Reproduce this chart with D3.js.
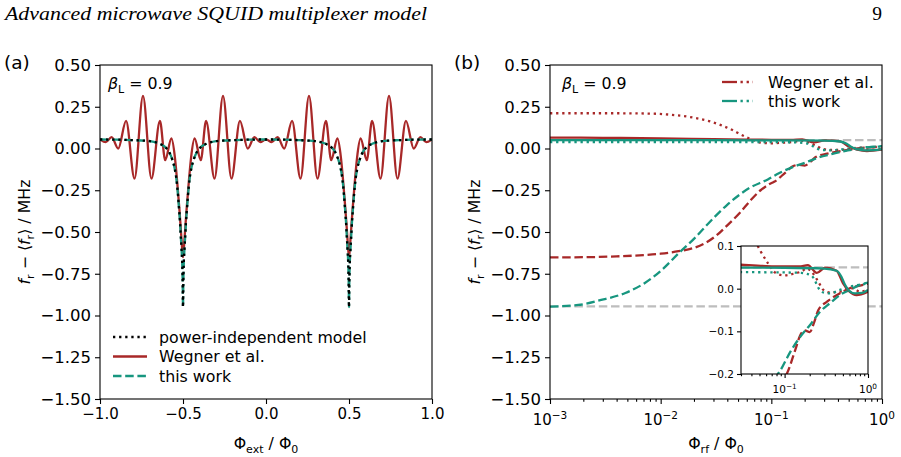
<!DOCTYPE html>
<html>
<head>
<meta charset="utf-8">
<script src="https://cdn.jsdelivr.net/npm/d3@7"></script>
<style>
  body { margin: 0; background: #fff; }
  text { font-family: "DejaVu Sans", sans-serif; fill: #000; }
</style>
</head>
<body>
<svg id="fig" width="901" height="457"></svg>
<script>
// ---- panel (a): response vs external flux ----
const xTicksA = [-1, -0.5, 0, 0.5, 1];
const yTicks = [0.5, 0.25, 0, -0.25, -0.5, -0.75, -1, -1.25, -1.5];

// power-independent model (the "this work" curve lies on top of it)
const phiExt = [-1.000,-0.900,-0.800,-0.750,-0.700,-0.640,-0.610,-0.585,-0.565,-0.550,
  -0.540,-0.530,-0.525,-0.518,-0.513,-0.509,-0.505,-0.502,-0.500,-0.498,
  -0.495,-0.491,-0.487,-0.482,-0.475,-0.470,-0.460,-0.450,-0.435,-0.415,
  -0.390,-0.360,-0.300,-0.250,-0.200,-0.100,0.000,
  0.100,0.200,0.250,0.300,0.360,0.390,0.415,0.435,0.450,0.460,
  0.470,0.475,0.482,0.487,0.491,0.495,0.498,0.500,0.502,0.505,
  0.509,0.513,0.518,0.525,0.530,0.540,0.550,0.565,0.585,0.610,
  0.640,0.700,0.750,0.800,0.900,1.000];
const modelA = [0.054,0.053,0.050,0.048,0.044,0.028,0.011,-0.018,-0.065,-0.120,
  -0.180,-0.280,-0.345,-0.440,-0.530,-0.600,-0.680,-0.800,-0.950,-0.800,
  -0.680,-0.600,-0.530,-0.440,-0.345,-0.280,-0.180,-0.120,-0.065,-0.018,
  0.011,0.028,0.044,0.048,0.050,0.053,0.054,
  0.053,0.050,0.048,0.044,0.028,0.011,-0.018,-0.065,-0.120,-0.180,
  -0.280,-0.345,-0.440,-0.530,-0.600,-0.680,-0.800,-0.950,-0.800,-0.680,
  -0.600,-0.530,-0.440,-0.345,-0.280,-0.180,-0.120,-0.065,-0.018,0.011,
  0.028,0.044,0.048,0.050,0.053,0.054];
const thisWorkA = modelA;

// Wegner et al. (oscillating)
const phiExtWeg = [-1.000,-0.965,-0.930,-0.890,-0.843,-0.792,-0.741,-0.690,-0.639,-0.607,
  -0.570,-0.548,-0.535,-0.522,-0.512,-0.505,-0.500,-0.495,-0.488,-0.478,
  -0.465,-0.452,-0.430,-0.393,-0.361,-0.310,-0.259,-0.208,-0.157,-0.110,
  -0.070,-0.035,0.000,
  0.035,0.070,0.110,0.157,0.208,0.259,0.310,0.361,0.393,0.430,
  0.452,0.465,0.478,0.488,0.495,0.500,0.505,0.512,0.522,0.535,
  0.548,0.570,0.607,0.639,0.690,0.741,0.792,0.843,0.890,0.930,
  0.965,1.000];
const wegnerA = [0.055,0.038,0.068,0.000,0.165,-0.180,0.315,-0.180,0.165,-0.070,
  0.060,-0.060,-0.200,-0.360,-0.500,-0.600,-0.650,-0.600,-0.500,-0.360,
  -0.200,-0.060,0.060,-0.070,0.165,-0.180,0.315,-0.180,0.165,0.000,
  0.068,0.038,0.055,
  0.038,0.068,0.000,0.165,-0.180,0.315,-0.180,0.165,-0.070,0.060,
  -0.060,-0.200,-0.360,-0.500,-0.600,-0.650,-0.600,-0.500,-0.360,-0.200,
  -0.060,0.060,-0.070,0.165,-0.180,0.315,-0.180,0.165,0.000,0.068,
  0.038,0.055];

// ---- panel (b): response vs rf amplitude ----
const xTicksB = [-3, -2, -1, 0];      // exponents of 10
const insetXTicks = [-1, 0];
const insetYTicks = [-0.2, -0.1, 0, 0.1];
const refLevels = [0.05, -0.945];

const rfWegSolid = [0.001,0.003,0.01,0.03,0.06,0.1,0.15,0.19,0.243,0.305,0.42,0.50,0.60,0.73,1.0];
const wegSolid   = [0.065,0.064,0.061,0.056,0.053,0.052,0.052,0.055,0.037,0.049,0.042,0.013,-0.007,-0.015,-0.007];

const rfWegDash = [0.001,0.002,0.004,0.007,0.01,0.0145,0.02,0.025,0.032,0.04,0.052,0.065,0.08,0.095,
  0.107,0.134,0.155,0.175,0.2,0.225,0.254,0.32,0.46,0.605,0.87,1.0];
const wegDash   = [-0.652,-0.651,-0.646,-0.638,-0.630,-0.615,-0.595,-0.568,-0.520,-0.460,-0.385,-0.310,-0.250,-0.215,
  -0.198,-0.144,-0.108,-0.098,-0.102,-0.080,-0.050,-0.031,-0.011,0.001,0.009,0.012];

const rfWegDot = [0.001,0.004,0.008,0.012,0.0197,0.028,0.035,0.0453,0.0514,0.0646,0.0776,0.098,
  0.128,0.158,0.185,0.21,0.254,0.292,0.35,0.46,0.552,0.66,0.794,1.0];
const wegDot   = [0.211,0.211,0.209,0.203,0.185,0.162,0.140,0.108,0.088,0.057,0.037,0.031,
  0.035,0.040,0.047,0.040,0.016,-0.003,-0.009,-0.007,-0.001,0.001,-0.007,-0.003];

const rfOurSolid = [0.001,0.01,0.1,0.3,0.42,0.48,0.53,0.58,0.70,0.85,1.0];
const ourSolid   = [0.050,0.050,0.049,0.047,0.042,0.028,0.009,-0.003,-0.011,-0.010,-0.003];

const rfOurDash = [0.001,0.0018,0.0029,0.0048,0.0072,0.0102,0.0145,0.0204,0.026,0.0395,0.064,
  0.093,0.117,0.154,0.202,0.266,0.35,0.46,0.605,0.796,1.0];
const ourDash   = [-0.947,-0.937,-0.907,-0.865,-0.805,-0.728,-0.628,-0.535,-0.460,-0.340,-0.235,
  -0.185,-0.148,-0.113,-0.085,-0.054,-0.034,-0.015,-0.003,0.009,0.014];

const rfOurDot = [0.001,0.01,0.1,0.158,0.212,0.232,0.254,0.292,0.35,0.46,0.605,0.796,1.0];
const ourDot   = [0.039,0.039,0.038,0.037,0.030,0.018,0.002,-0.009,-0.011,-0.003,0.005,0.009,0.012];

// ---- drawing ----
const red = "#a82828", teal = "#17967f", grey = "#bdbdbd";
const LW = 2.3;
const dashes = { solid: null, dashed: "8.5,3.7", dotted: "2.3,3.8" };

const svg = d3.select("#fig");
svg.append("rect").attr("width", 901).attr("height", 457).attr("fill", "#fff");

const plotTop = 65, plotBottom = 399;
const xA = d3.scaleLinear().domain([-1, 1]).range([100, 432]);
const yA = d3.scaleLinear().domain([-1.5, 0.5]).range([plotBottom, plotTop]);
const xB = d3.scaleLog().domain([1e-3, 1]).range([550, 882]);
const yB = yA.copy();
const xI = d3.scaleLog().domain([0.03, 1]).range([741, 868]);
const yI = d3.scaleLinear().domain([-0.2, 0.1]).range([374, 246]);

const defs = svg.append("defs");
function clip(id, x, y, w, h) {
  defs.append("clipPath").attr("id", id).append("rect")
    .attr("x", x).attr("y", y).attr("width", w).attr("height", h);
  return "url(#" + id + ")";
}

function drawLine(g, xs, ys, sx, sy, color, style, width) {
  const pts = xs.map((v, i) => [v, ys[i]]);
  const line = d3.line().x(d => sx(d[0])).y(d => sy(d[1])).curve(d3.curveMonotoneX);
  g.append("path").attr("d", line(pts))
    .attr("fill", "none").attr("stroke", color)
    .attr("stroke-width", width || LW)
    .attr("stroke-dasharray", dashes[style]);
}

function frame(sx, sy) {
  const [x0, x1] = sx.range(), [y0, y1] = sy.range();
  svg.append("rect").attr("x", x0).attr("y", y1)
    .attr("width", x1 - x0).attr("height", y0 - y1)
    .attr("fill", "none").attr("stroke", "#000").attr("stroke-width", 1.1);
}

function styleAxis(g, fs) {
  g.select(".domain").remove();
  g.selectAll(".tick line").attr("stroke", "#000").attr("stroke-width", 1.1);
  g.selectAll(".tick text").attr("font-size", fs).attr("font-family", "DejaVu Sans").attr("fill", "#000");
}

function powLabel(g, x, y, exp, fs, anchor) {
  const t = g.append("text").attr("x", x).attr("y", y)
    .attr("text-anchor", anchor || "middle").attr("font-size", fs);
  t.append("tspan").text("10");
  t.append("tspan").attr("dy", -fs * 0.42).attr("font-size", fs * 0.7)
    .text(exp < 0 ? "\u2212" + (-exp) : String(exp));
}

const yFmt = d3.format(".2f");
const yTickFs = 16.5;

// ----- panel (a) -----
const gA = svg.append("g").attr("clip-path", clip("clipA", 100, plotTop, 332, plotBottom - plotTop));
drawLine(gA, phiExtWeg, wegnerA, xA, yA, red, "solid");
drawLine(gA, phiExt, thisWorkA, xA, yA, teal, "dashed");
drawLine(gA, phiExt, modelA, xA, yA, "#000", "dotted");

const axA = svg.append("g").attr("transform", `translate(0,${plotBottom})`)
  .call(d3.axisBottom(xA).tickValues(xTicksA).tickFormat(d3.format(".1f")).tickSize(5).tickPadding(4));
styleAxis(axA, 15);
const ayA = svg.append("g").attr("transform", "translate(100,0)")
  .call(d3.axisLeft(yA).tickValues(yTicks).tickFormat(yFmt).tickSize(5).tickPadding(4));
styleAxis(ayA, yTickFs);
frame(xA, yA);

// ----- panel (b) -----
const gB = svg.append("g").attr("clip-path", clip("clipB", 550, plotTop, 332, plotBottom - plotTop));
function drawPanelB(g, sx, sy) {
  refLevels.forEach(v => {
    g.append("line").attr("x1", sx.range()[0]).attr("x2", sx.range()[1])
      .attr("y1", sy(v)).attr("y2", sy(v))
      .attr("stroke", grey).attr("stroke-width", LW).attr("stroke-dasharray", dashes.dashed);
  });
  drawLine(g, rfWegDot, wegDot, sx, sy, red, "dotted");
  drawLine(g, rfOurDot, ourDot, sx, sy, teal, "dotted");
  drawLine(g, rfWegDash, wegDash, sx, sy, red, "dashed");
  drawLine(g, rfOurDash, ourDash, sx, sy, teal, "dashed");
  drawLine(g, rfWegSolid, wegSolid, sx, sy, red, "solid");
  drawLine(g, rfOurSolid, ourSolid, sx, sy, teal, "solid");
}
drawPanelB(gB, xB, yB);

const majorB = xTicksB.map(e => Math.pow(10, e));
const minorB = [];
for (let e = -3; e < 0; e++) for (let m = 2; m <= 9; m++) minorB.push(m * Math.pow(10, e));

const axB = svg.append("g").attr("transform", `translate(0,${plotBottom})`)
  .call(d3.axisBottom(xB).tickValues(majorB).tickFormat("").tickSize(5));
styleAxis(axB, 15);
const axBm = svg.append("g").attr("transform", `translate(0,${plotBottom})`)
  .call(d3.axisBottom(xB).tickValues(minorB).tickFormat("").tickSize(2.8));
styleAxis(axBm, 15);
xTicksB.forEach(e => powLabel(svg, xB(Math.pow(10, e)), 425, e, 15));
const ayB = svg.append("g").attr("transform", "translate(550,0)")
  .call(d3.axisLeft(yB).tickValues(yTicks).tickFormat(yFmt).tickSize(5).tickPadding(4));
styleAxis(ayB, yTickFs);
frame(xB, yB);

// ----- inset -----
svg.append("rect").attr("x", 741).attr("y", 246).attr("width", 127).attr("height", 128).attr("fill", "#fff");
const gI = svg.append("g").attr("clip-path", clip("clipI", 741, 246, 127, 128));
drawPanelB(gI, xI, yI);
const majorI = insetXTicks.map(e => Math.pow(10, e));
const minorI = [0.03, 0.04, 0.05, 0.06, 0.07, 0.08, 0.09, 0.2, 0.3, 0.4, 0.5, 0.6, 0.7, 0.8, 0.9];
const axI = svg.append("g").attr("transform", "translate(0,374)")
  .call(d3.axisBottom(xI).tickValues(majorI).tickFormat("").tickSize(4));
styleAxis(axI, 10);
const axIm = svg.append("g").attr("transform", "translate(0,374)")
  .call(d3.axisBottom(xI).tickValues(minorI).tickFormat("").tickSize(2.2));
styleAxis(axIm, 10);
insetXTicks.forEach(e => powLabel(svg, xI(Math.pow(10, e)), 393, e, 10.5));
const ayI = svg.append("g").attr("transform", "translate(741,0)")
  .call(d3.axisLeft(yI).tickValues(insetYTicks).tickFormat(d3.format(".1f")).tickSize(4).tickPadding(3));
styleAxis(ayI, 10.5);
frame(xI, yI);

// ----- texts -----
function betaLabel(x, y) {
  const t = svg.append("text").attr("x", x).attr("y", y).attr("font-size", 15.8);
  t.append("tspan").attr("font-style", "italic").text("\u03b2");
  t.append("tspan").attr("dy", 3.5).attr("font-size", 11).text("L");
  t.append("tspan").attr("dy", -3.5).text(" = 0.9");
}
betaLabel(108, 89);
betaLabel(562, 89);

svg.append("text").attr("x", 4).attr("y", 69).attr("font-size", 18.5).text("(a)");
svg.append("text").attr("x", 454).attr("y", 69).attr("font-size", 18.5).text("(b)");

function fluxLabel(cx, sub) {
  const t = svg.append("text").attr("x", cx).attr("y", 449).attr("text-anchor", "middle").attr("font-size", 15.8);
  t.append("tspan").text("\u03a6");
  t.append("tspan").attr("dy", 3.5).attr("font-size", 11).text(sub);
  t.append("tspan").attr("dy", -3.5).text(" / \u03a6");
  t.append("tspan").attr("dy", 3.5).attr("font-size", 11).text("0");
}
fluxLabel(266, "ext");
fluxLabel(716, "rf");

function yLabel(x) {
  const t = svg.append("text").attr("transform", `translate(${x},232) rotate(-90)`)
    .attr("text-anchor", "middle").attr("font-size", 15.8);
  t.append("tspan").attr("font-style", "italic").text("f");
  t.append("tspan").attr("dy", 3.5).attr("font-size", 11).text("r");
  t.append("tspan").attr("dy", -3.5).text(" \u2212 \u27e8");
  t.append("tspan").attr("font-style", "italic").text("f");
  t.append("tspan").attr("dy", 3.5).attr("font-size", 11).text("r");
  t.append("tspan").attr("dy", -3.5).text("\u27e9 / MHz");
}
yLabel(30);
yLabel(480);

// legend (a)
const legA = [
  { label: "power-independent model", color: "#000", style: "dotted" },
  { label: "Wegner et al.", color: red, style: "solid" },
  { label: "this work", color: teal, style: "dashed" }
];
const legAy = [337, 356.5, 376];
legA.forEach((d, i) => {
  svg.append("line").attr("x1", 113).attr("x2", 147).attr("y1", legAy[i]).attr("y2", legAy[i])
    .attr("stroke", d.color).attr("stroke-width", LW).attr("stroke-dasharray", dashes[d.style]);
  svg.append("text").attr("x", 159).attr("y", legAy[i] + 5.5).attr("font-size", 15.8).text(d.label);
});

// legend (b): dashed + dotted handle
const legB = [{ label: "Wegner et al.", color: red }, { label: "this work", color: teal }];
const legBy = [82, 101];
legB.forEach((d, i) => {
  svg.append("line").attr("x1", 722).attr("x2", 737).attr("y1", legBy[i]).attr("y2", legBy[i])
    .attr("stroke", d.color).attr("stroke-width", LW);
  svg.append("line").attr("x1", 740.5).attr("x2", 753).attr("y1", legBy[i]).attr("y2", legBy[i])
    .attr("stroke", d.color).attr("stroke-width", LW).attr("stroke-dasharray", dashes.dotted);
  svg.append("text").attr("x", 768).attr("y", legBy[i] + 5.5).attr("font-size", 15.8).text(d.label);
});

// running header (serif italic, like the journal page)
svg.append("text").attr("x", 5).attr("y", 20)
  .style("font-family", "'Liberation Serif', 'DejaVu Serif', serif")
  .style("font-style", "italic").attr("font-size", 19.5)
  .attr("textLength", 422).attr("lengthAdjust", "spacingAndGlyphs")
  .text("Advanced microwave SQUID multiplexer model");
svg.append("text").attr("x", 882).attr("y", 20)
  .style("font-family", "'Liberation Serif', 'DejaVu Serif', serif")
  .attr("font-size", 19.5).attr("text-anchor", "end").text("9");
</script>
</body>
</html>
